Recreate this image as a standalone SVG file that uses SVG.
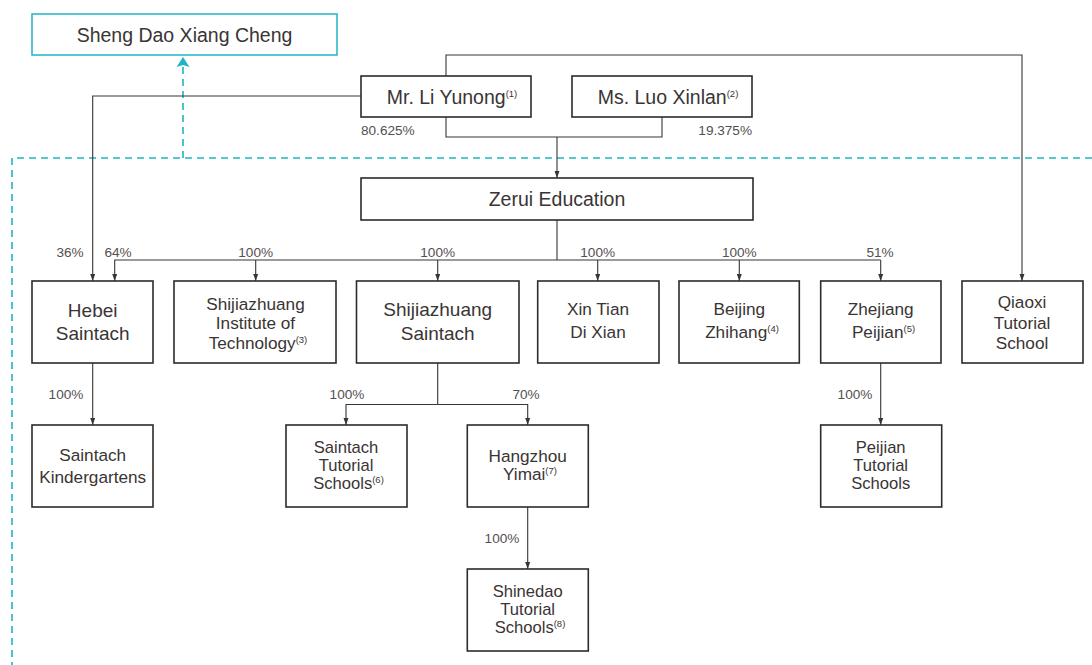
<svg xmlns="http://www.w3.org/2000/svg" width="1092" height="665" viewBox="0 0 1092 665">
<defs>
<style>
.box{fill:#fff;stroke:#302a2a;stroke-width:1.6}
.tbox{fill:#fff;stroke:#1fb5c4;stroke-width:1.5}
.t{font-family:"Liberation Sans",Arial,sans-serif;fill:#3a3434;text-anchor:middle}
.big{font-size:19.5px}
.mid{font-size:19px}
.sm{font-size:17.2px}
.sm3{font-size:16.6px}
.sup{font-size:9.5px}
.pct{font-family:"Liberation Sans",Arial,sans-serif;font-size:13.6px;fill:#555050;text-anchor:middle}
.ln{fill:none;stroke:#3a3434;stroke-width:1.1}
.dash{fill:none;stroke:#1fb5c4;stroke-width:1.6;stroke-dasharray:7 5}
</style>
<marker id="arr" markerUnits="userSpaceOnUse" markerWidth="8" markerHeight="8" refX="7" refY="4" orient="auto" viewBox="0 0 8 8">
<path d="M0,1.5 L7,4 L0,6.5 Z" fill="#3a3434"/>
</marker>
</defs>
<rect width="1092" height="665" fill="#fff"/>

<g id="connectors">
<path class="dash" d="M1092,158 H12 V665"/>
<path class="dash" d="M183,158 V66"/>
<polygon points="183,57 189.5,67 183,65 176.5,67" fill="#1fb5c4"/>
<path class="ln" marker-end="url(#arr)" d="M361,96 H92.7 V281"/>
<path class="ln" marker-end="url(#arr)" d="M446,76 V55 H1022 V281"/>
<path class="ln" d="M446,117 V137 H662 V117"/>
<path class="ln" marker-end="url(#arr)" d="M557,137 V178"/>
<path class="ln" d="M557,220 V260"/>
<path class="ln" marker-end="url(#arr)" d="M880.7,260 H114.7 V281"/>
<path class="ln" marker-end="url(#arr)" d="M880.7,260 V281"/>
<path class="ln" marker-end="url(#arr)" d="M255.7,260 V281"/>
<path class="ln" marker-end="url(#arr)" d="M437.7,260 V281"/>
<path class="ln" marker-end="url(#arr)" d="M597.7,260 V281"/>
<path class="ln" marker-end="url(#arr)" d="M739.3,260 V281"/>
<path class="ln" marker-end="url(#arr)" d="M92.7,363 V425"/>
<path class="ln" d="M437.7,363 V404.5"/>
<path class="ln" marker-end="url(#arr)" d="M437.7,404.5 H346 V425"/>
<path class="ln" marker-end="url(#arr)" d="M437.7,404.5 H527.7 V425"/>
<path class="ln" marker-end="url(#arr)" d="M880.7,363 V425"/>
<path class="ln" marker-end="url(#arr)" d="M527.7,507 V569"/>
</g>

<g id="labels">
<text class="pct" x="361" y="135" style="text-anchor:start">80.625%</text>
<text class="pct" x="752" y="135" style="text-anchor:end">19.375%</text>
<text class="pct" x="70" y="257">36%</text>
<text class="pct" x="118" y="257">64%</text>
<text class="pct" x="255.7" y="257">100%</text>
<text class="pct" x="437.7" y="257">100%</text>
<text class="pct" x="597.7" y="257">100%</text>
<text class="pct" x="739.3" y="257">100%</text>
<text class="pct" x="880" y="257">51%</text>
<text class="pct" x="66" y="399">100%</text>
<text class="pct" x="347" y="399">100%</text>
<text class="pct" x="526" y="399">70%</text>
<text class="pct" x="855" y="399">100%</text>
<text class="pct" x="502" y="543">100%</text>
</g>

<g id="sheng-dao">
<rect class="tbox" x="32" y="14" width="305" height="41"/>
<text class="t big" x="184.5" y="42">Sheng Dao Xiang Cheng</text>
</g>
<g id="li-yunong">
<rect class="box" x="361" y="76" width="170" height="41"/>
<text class="t big" x="452" y="104">Mr. Li Yunong<tspan class="sup" dy="-7">(1)</tspan></text>
</g>
<g id="luo-xinlan">
<rect class="box" x="572" y="76" width="180" height="41"/>
<text class="t big" x="668" y="104">Ms. Luo Xinlan<tspan class="sup" dy="-7">(2)</tspan></text>
</g>
<g id="zerui">
<rect class="box" x="361" y="178" width="392" height="42"/>
<text class="t big" x="557" y="206">Zerui Education</text>
</g>
<g id="hebei-saintach">
<rect class="box" x="32" y="281" width="121" height="82"/>
<text class="t mid" x="92.7" y="317">Hebei</text>
<text class="t mid" x="92.7" y="340">Saintach</text>
</g>
<g id="sjz-institute">
<rect class="box" x="174" y="281" width="162" height="82"/>
<text class="t sm" x="255.5" y="310">Shijiazhuang</text>
<text class="t sm" x="255.5" y="329">Institute of</text>
<text class="t sm" x="258" y="348.5">Technology<tspan class="sup" dy="-6">(3)</tspan></text>
</g>
<g id="sjz-saintach">
<rect class="box" x="356.5" y="281" width="162.5" height="82"/>
<text class="t mid" x="437.7" y="316">Shijiazhuang</text>
<text class="t mid" x="437.7" y="340">Saintach</text>
</g>
<g id="xin-tian">
<rect class="box" x="537.7" y="281" width="121.3" height="82"/>
<text class="t sm" x="598" y="315">Xin Tian</text>
<text class="t sm" x="598" y="338">Di Xian</text>
</g>
<g id="beijing-zhihang">
<rect class="box" x="679" y="281" width="120.3" height="82"/>
<text class="t sm" x="739.3" y="315">Beijing</text>
<text class="t sm" x="742" y="338">Zhihang<tspan class="sup" dy="-6">(4)</tspan></text>
</g>
<g id="zhejiang-peijian">
<rect class="box" x="820.7" y="281" width="120.3" height="82"/>
<text class="t sm" x="880.7" y="315">Zhejiang</text>
<text class="t sm" x="883.5" y="338">Peijian<tspan class="sup" dy="-6">(5)</tspan></text>
</g>
<g id="qiaoxi">
<rect class="box" x="962" y="281" width="121" height="82"/>
<text class="t sm" x="1022" y="308">Qiaoxi</text>
<text class="t sm" x="1022" y="328.5">Tutorial</text>
<text class="t sm" x="1022" y="349">School</text>
</g>
<g id="saintach-kindergartens">
<rect class="box" x="32" y="425" width="121" height="82"/>
<text class="t sm" x="92.7" y="461">Saintach</text>
<text class="t sm" x="92.7" y="483">Kindergartens</text>
</g>
<g id="saintach-tutorial">
<rect class="box" x="286" y="425" width="121" height="82"/>
<text class="t sm3" x="346" y="453">Saintach</text>
<text class="t sm3" x="346" y="471">Tutorial</text>
<text class="t sm3" x="348.5" y="489">Schools<tspan class="sup" dy="-6">(6)</tspan></text>
</g>
<g id="hangzhou-yimai">
<rect class="box" x="467.3" y="425" width="121" height="82"/>
<text class="t sm" x="527.7" y="462">Hangzhou</text>
<text class="t sm" x="530" y="480">Yimai<tspan class="sup" dy="-6">(7)</tspan></text>
</g>
<g id="peijian-tutorial">
<rect class="box" x="820.7" y="425" width="121" height="82"/>
<text class="t sm3" x="880.7" y="453">Peijian</text>
<text class="t sm3" x="880.7" y="471">Tutorial</text>
<text class="t sm3" x="880.7" y="489">Schools</text>
</g>
<g id="shinedao-tutorial">
<rect class="box" x="467.3" y="569" width="121" height="82"/>
<text class="t sm3" x="527.7" y="597">Shinedao</text>
<text class="t sm3" x="527.7" y="615">Tutorial</text>
<text class="t sm3" x="530" y="633">Schools<tspan class="sup" dy="-6">(8)</tspan></text>
</g>
</svg>
